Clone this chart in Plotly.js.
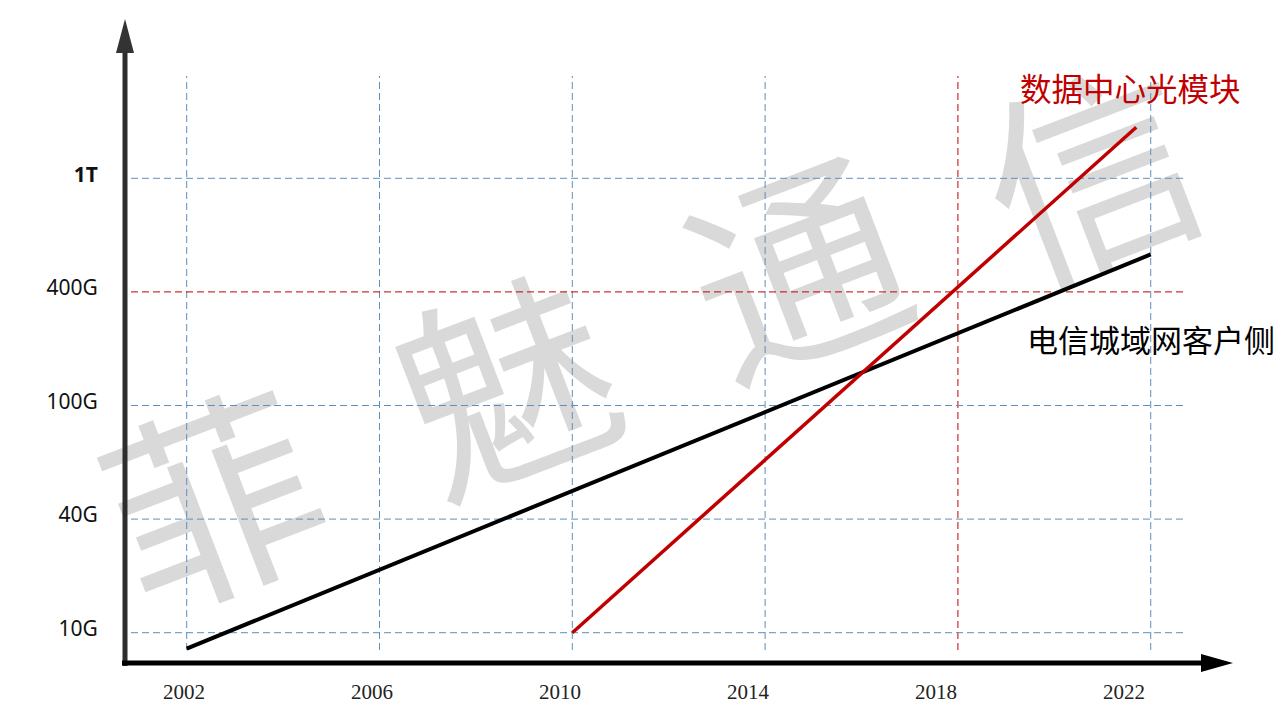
<!DOCTYPE html>
<html>
<head>
<meta charset="utf-8">
<script src="https://cdn.plot.ly/plotly-3.0.1.min.js"></script>
<style>html,body{margin:0;padding:0;background:#fff;}#chart{width:1280px;height:720px;}</style>
</head>
<body>
<div id="chart"></div>
<script>
// ---- data ----
const yearTicks = [2002, 2006, 2010, 2014, 2018, 2022];
const levelTicks = [0, 1, 2, 3, 4];
const levelLabels = ['10G', '40G', '100G', '400G', '<b>1T</b>'];
const telecomYears = [2002, 2022];
const telecomLevel = [-0.14, 3.33];
const dcYears = [2010, 2021.7];
const dcLevel = [0, 4.45];
const telecomName = '电信城域网客户侧';
const dcName = '数据中心光模块';
const watermarkChars = ['菲', '魅', '通', '信'];

// ---- layout geometry (pixels) ----
const L = 125, R = 1233, T = 20, B = 664;
const W = R - L, H = B - T;
const px = v => (v - L) / W;        // pixel x -> paper x
const py = v => (B - v) / H;        // pixel y -> paper y

const RED = '#c00000';
const BLUE = '#5e8fbd';

const shapes = [];
// watermark (below everything)
const wmCenters = [[222, 522], [515, 405], [805, 290], [1100, 195]];
watermarkChars.forEach((ch, i) => {
  const [cx, cy] = wmCenters[i];
  shapes.push({
    type: 'rect', xref: 'paper', yref: 'paper', layer: 'below',
    x0: px(cx - 5), x1: px(cx + 5), y0: py(cy + 5), y1: py(cy - 5),
    line: {width: 0}, fillcolor: 'rgba(0,0,0,0)',
    label: {text: ch, textangle: -21, textposition: 'middle center',
            font: {family: 'Noto Sans CJK SC', size: 212, color: '#d9d9d9'}}
  });
});
// vertical gridlines
yearTicks.forEach(y => {
  shapes.push({type: 'line', xref: 'x', yref: 'paper', layer: 'below',
    x0: y, x1: y, y0: py(650), y1: py(76),
    line: {color: y === 2018 ? RED : BLUE, width: 1, dash: '7px,4px'}});
});
// horizontal gridlines
levelTicks.forEach(v => {
  shapes.push({type: 'line', xref: 'paper', yref: 'y', layer: 'below',
    x0: px(131), x1: px(1183), y0: v, y1: v,
    line: {color: v === 3 ? RED : BLUE, width: 1, dash: '7px,4px'}});
});
// y axis with arrow
shapes.push({type: 'line', xref: 'paper', yref: 'paper',
  x0: px(125), x1: px(125), y0: py(666), y1: py(50),
  line: {color: '#2e2e2e', width: 5}});
shapes.push({type: 'path', xref: 'paper', yref: 'paper',
  path: `M ${px(125)} ${py(19)} L ${px(116)} ${py(53)} L ${px(134)} ${py(53)} Z`,
  fillcolor: '#333333', line: {width: 0}});
// x axis with arrow
shapes.push({type: 'line', xref: 'paper', yref: 'paper',
  x0: px(122), x1: px(1205), y0: py(663), y1: py(663),
  line: {color: '#000000', width: 5}});
shapes.push({type: 'path', xref: 'paper', yref: 'paper',
  path: `M ${px(1233)} ${py(663)} L ${px(1201)} ${py(654)} L ${px(1201)} ${py(672)} Z`,
  fillcolor: '#000000', line: {width: 0}});

const traces = [
  {x: telecomYears, y: telecomLevel, type: 'scatter', mode: 'lines', name: telecomName,
   line: {color: '#000000', width: 4}, hoverinfo: 'skip', cliponaxis: false},
  {x: dcYears, y: dcLevel, type: 'scatter', mode: 'lines', name: dcName,
   line: {color: RED, width: 3.5}, hoverinfo: 'skip', cliponaxis: false},
  // invisible anchor trace for the label axis
  {x: yearTicks, y: yearTicks.map(() => 0), xaxis: 'x2', type: 'scatter', mode: 'markers',
   marker: {opacity: 0}, hoverinfo: 'skip', showlegend: false}
];

const layout = {
  width: 1280, height: 720,
  margin: {l: L, r: 1280 - R, t: T, b: 720 - B, pad: 0},
  paper_bgcolor: '#ffffff', plot_bgcolor: 'rgba(0,0,0,0)',
  showlegend: false,
  xaxis: {range: [2000.72, 2023.707], showgrid: false, zeroline: false, showline: false,
          showticklabels: false, ticks: '', fixedrange: true},
  xaxis2: {overlaying: 'x', anchor: 'y', side: 'bottom',
           range: [2002 + (L - 184) / 47, 2002 + (R - 184) / 47],
           tickvals: yearTicks, ticktext: yearTicks.map(String),
           showgrid: false, zeroline: false, showline: false,
           ticks: 'outside', ticklen: 9, tickcolor: 'rgba(0,0,0,0)',
           tickfont: {family: 'Liberation Serif', size: 21, color: '#222222'}, fixedrange: true},
  yaxis: {range: [-0.2755, 5.3935], tickvals: levelTicks, ticktext: levelLabels,
          showgrid: false, zeroline: false, showline: false,
          ticks: 'outside', ticklen: 22, tickcolor: 'rgba(0,0,0,0)', ticklabelshift: -4,
          tickfont: {family: 'Noto Sans, Open Sans, sans-serif', size: 21, color: '#111111'}, fixedrange: true},
  shapes: shapes,
  annotations: [
    {x: 2019.25, y: 4.80, xref: 'x', yref: 'y', xanchor: 'left', yanchor: 'middle',
     text: dcName, showarrow: false,
     font: {family: 'Noto Sans CJK SC', size: 31.5, color: RED}},
    {x: 2019.39, y: 2.594, xref: 'x', yref: 'y', xanchor: 'left', yanchor: 'middle',
     text: telecomName, showarrow: false,
     font: {family: 'Noto Sans CJK SC', size: 31, color: '#000000'}}
  ]
};

Plotly.newPlot('chart', traces, layout, {displayModeBar: false, staticPlot: true});
</script>
</body>
</html>
